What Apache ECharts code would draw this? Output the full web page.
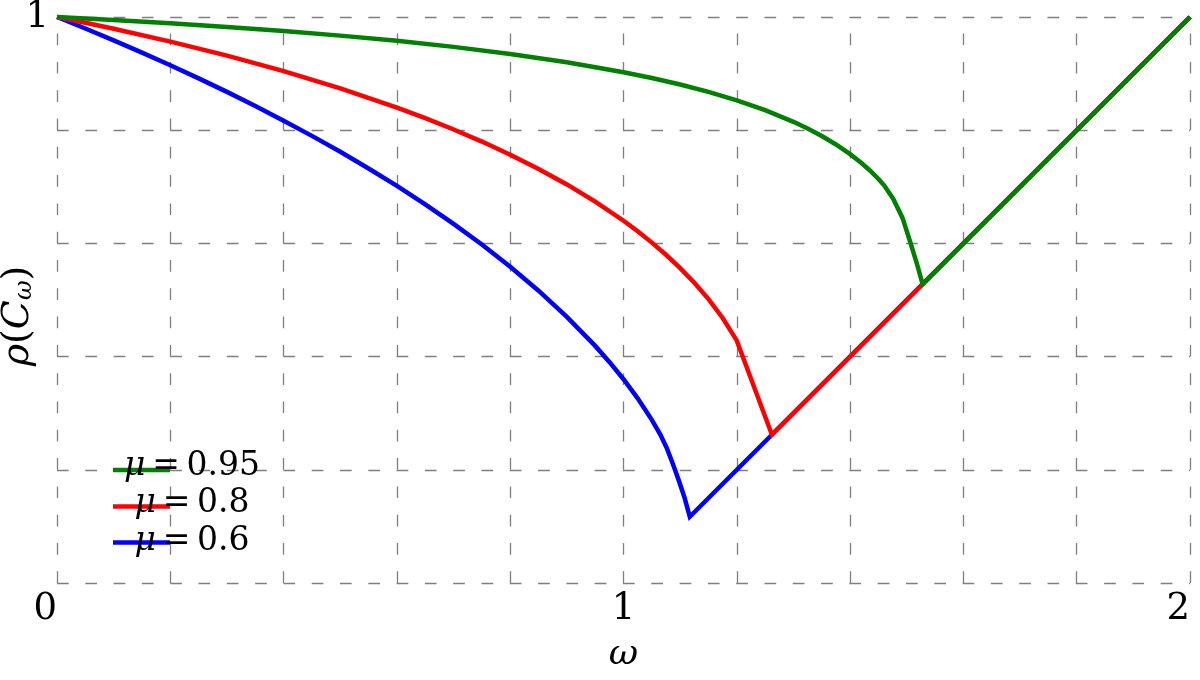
<!DOCTYPE html>
<html>
<head>
<meta charset="utf-8">
<script src="https://cdn.jsdelivr.net/npm/echarts@6/dist/echarts.min.js"></script>
<style>html,body{margin:0;padding:0;background:#fff}#c{width:1200px;height:680px}</style>
</head>
<body>
<div id="c"></div>
<script>
// ---- data ----
const muLabels = ['0.95', '0.8', '0.6'];

const omegaMu95 = [0, 0.05, 0.1, 0.2, 0.3, 0.4, 0.5, 0.6, 0.7, 0.8, 0.9, 1.0, 1.05, 1.1, 1.15, 1.2, 1.25, 1.3, 1.325, 1.35, 1.375, 1.4, 1.42, 1.435, 1.45, 1.46, 1.476, 1.4925, 1.506, 1.518, 1.528, 2.0];
const rhoMu95   = [1, 0.9974, 0.9948, 0.9889, 0.9825, 0.9753, 0.9671, 0.9579, 0.9472, 0.9348, 0.9202, 0.9025, 0.8922, 0.8807, 0.8676, 0.8527, 0.8353, 0.8148, 0.8029, 0.7897, 0.7748, 0.7577, 0.7421, 0.7288, 0.7138, 0.7026, 0.679, 0.645, 0.603, 0.564, 0.528, 1.0];

const omegaMu80 = [0, 0.05, 0.1, 0.2, 0.3, 0.4, 0.5, 0.6, 0.65, 0.7, 0.75, 0.8, 0.85, 0.9, 0.95, 1.0, 1.025, 1.05, 1.075, 1.1, 1.125, 1.15, 1.175, 1.2, 1.262, 2.0];
const rhoMu80   = [1, 0.9898, 0.9792, 0.9565, 0.9317, 0.9043, 0.8739, 0.8399, 0.8212, 0.8013, 0.7799, 0.7567, 0.7316, 0.7042, 0.6739, 0.64, 0.6214, 0.6014, 0.5799, 0.5564, 0.5305, 0.5015, 0.4682, 0.4282, 0.262, 1.0];

const omegaMu60 = [0, 0.05, 0.1, 0.15, 0.2, 0.25, 0.3, 0.35, 0.4, 0.45, 0.5, 0.55, 0.6, 0.65, 0.7, 0.75, 0.8, 0.85, 0.9, 0.95, 0.975, 1.0, 1.025, 1.05, 1.065, 1.077, 1.088, 1.098, 1.108, 1.117, 2.0];
const rhoMu60   = [1, 0.9797, 0.9588, 0.9371, 0.9148, 0.8916, 0.8677, 0.8428, 0.8169, 0.7900, 0.7619, 0.7324, 0.7015, 0.6690, 0.6346, 0.5980, 0.5588, 0.5165, 0.4703, 0.4189, 0.3906, 0.36, 0.3263, 0.2882, 0.2622, 0.237, 0.208, 0.180, 0.150, 0.117, 1.0];

const xTickLabels = ['0', '1', '2'];
const yTickLabels = ['1'];

// ---- styles ----
const FONT = 'DejaVu Serif';
const colors = ['#008000', '#ff0000', '#0000ff'];
const omegas = [omegaMu95, omegaMu80, omegaMu60];
const rhos = [rhoMu95, rhoMu80, rhoMu60];

function pick(labels, v) {
  const r = Math.round(v);
  if (Math.abs(v - r) < 1e-9 && labels.indexOf(String(r)) >= 0) return String(r);
  return '';
}

const chart = echarts.init(document.getElementById('c'), null, {renderer: 'canvas'});

const series = muLabels.map((mu, i) => ({
  name: '\u03bc=' + mu,
  type: 'line',
  data: omegas[i].map((w, k) => [w, rhos[i][k]]),
  showSymbol: false,
  symbol: 'none',
  clip: false,
  z: 10 - i,
  lineStyle: {color: colors[i], width: 4.5, cap: 'butt', join: 'miter'},
  itemStyle: {color: colors[i]},
  animation: false
}));

const legendRowsLine = [470, 506.5, 542.5];
const legendRowsText = [466, 503, 541];
const graphics = [];
muLabels.forEach((mu, i) => {
  graphics.push({
    type: 'line', z: 20,
    shape: {x1: 113, y1: legendRowsLine[i], x2: 170, y2: legendRowsLine[i]},
    style: {stroke: colors[i], lineWidth: 4.5}
  });
  graphics.push({
    type: 'text', z: 21,
    x: 192, y: legendRowsText[i],
    style: {
      text: '{i|\u03bc}{n|\u2009=\u2009' + mu + '}',
      align: 'center', verticalAlign: 'middle',
      rich: {
        i: {fontFamily: FONT, fontStyle: 'italic', fontSize: 33, fill: '#000'},
        n: {fontFamily: FONT, fontSize: 33, fill: '#000'}
      }
    }
  });
});

chart.setOption({
  backgroundColor: '#fff',
  animation: false,
  grid: {left: 57, right: 10, top: 17, bottom: 97, containLabel: false, outerBoundsMode: 'none'},
  xAxis: {
    type: 'value', min: 0, max: 2, interval: 0.2,
    axisLine: {show: false}, axisTick: {show: false},
    axisLabel: {
      formatter: v => pick(xTickLabels, v),
      fontFamily: FONT, fontSize: 37, color: '#000', margin: 8,
      alignMinLabel: 'right', alignMaxLabel: 'right'
    },
    splitLine: {show: true, lineStyle: {color: '#7f7f7f', width: 1.3, type: [11.7, 16.6], dashOffset: 11.7}},
    name: '\u03c9', nameLocation: 'middle', nameGap: 54, nameMoveOverlap: false,
    nameTextStyle: {fontFamily: FONT, fontStyle: 'italic', fontSize: 36, color: '#000'}
  },
  yAxis: {
    type: 'value', min: 0, max: 1, interval: 0.2,
    axisLine: {show: false}, axisTick: {show: false},
    axisLabel: {
      formatter: v => pick(yTickLabels, v),
      fontFamily: FONT, fontSize: 37, color: '#000', margin: 8, padding: [6, 0, 0, 0]
    },
    splitLine: {show: true, lineStyle: {color: '#7f7f7f', width: 1.3, type: [11.7, 16.6]}},
    name: '{r|\u03c1}{p|(}{c|C}{s|\u03c9}{p|)}',
    nameLocation: 'middle', nameGap: 20, nameMoveOverlap: false,
    nameTextStyle: {
      padding: [0, 32, 0, 0],
      rich: {
        r: {fontFamily: FONT, fontStyle: 'italic', fontSize: 38, color: '#000'},
        p: {fontFamily: FONT, fontSize: 38, color: '#000'},
        c: {fontFamily: FONT, fontStyle: 'italic', fontSize: 38, color: '#000'},
        s: {fontFamily: FONT, fontStyle: 'italic', fontSize: 24, color: '#000', verticalAlign: 'bottom'}
      }
    }
  },
  series: series,
  graphic: graphics
});
</script>
</body>
</html>
